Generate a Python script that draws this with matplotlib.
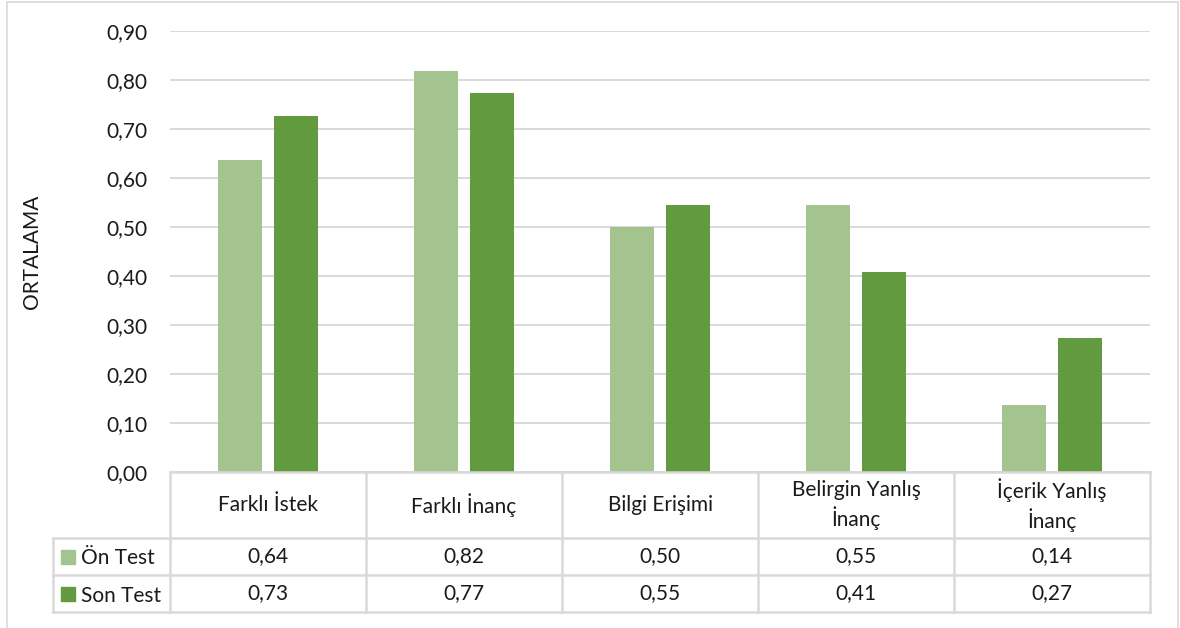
import matplotlib.pyplot as plt
import numpy as np
from matplotlib.patches import Rectangle

categories = ["Farklı İstek", "Farklı İnanç", "Bilgi Erişimi", "Belirgin Yanlış\nİnanç", "İçerik Yanlış\nİnanç"]
series_names = ["Ön Test", "Son Test"]
on_test = [0.636, 0.818, 0.500, 0.545, 0.136]
son_test = [0.727, 0.773, 0.545, 0.409, 0.273]
y_ticks = [0.0, 0.1, 0.2, 0.3, 0.4, 0.5, 0.6, 0.7, 0.8, 0.9]

colors = ["#a3c48f", "#629b3f"]
grid_color = "#d9d9d9"
text_color = "#1a1a1a"
fs = 15
W, H = 1180, 628

plt.rcParams["font.family"] = ["Lato", "DejaVu Sans"]

fig = plt.figure(figsize=(W / 100, H / 100), dpi=100)
fig.patch.set_facecolor("white")


def fx(x):
    return x / W


def fy(y):
    return 1 - y / H


# plot area in pixel terms
left, right, top, bottom = 170, 1150, 31, 472
ax = fig.add_axes([fx(left), fy(bottom), fx(right) - fx(left), fy(top) - fy(bottom)])
n = len(categories)
x = np.arange(n) + 0.5
bw, off = 0.22, 0.143
ax.bar(x - off, on_test, width=bw, color=colors[0], zorder=2)
ax.bar(x + off, son_test, width=bw, color=colors[1], zorder=2)
ax.set_xlim(0, n)
ax.set_ylim(0, 0.9)
ax.set_yticks(y_ticks)
ax.set_yticklabels([f"{v:.2f}".replace(".", ",") for v in y_ticks], fontsize=fs, color=text_color)
ax.tick_params(axis="y", length=0, pad=16.5)
ax.set_xticks([])
for s in ax.spines.values():
    s.set_visible(False)
ax.grid(axis="y", color=grid_color, linewidth=1.4, zorder=0)
ax.set_ylabel("ORTALAMA", fontsize=fs, color=text_color)
ax.yaxis.set_label_coords(-(left - 42) / (right - left), 0.5)

# data table under the axis
row_h = [472, 538, 575, 612]
col_w = (right - left) / n
lkw = dict(color=grid_color, linewidth=1.8, transform=fig.transFigure)
fig.add_artist(plt.Line2D([fx(left), fx(right)], [fy(472), fy(472)], **lkw))
for y in row_h[1:]:
    fig.add_artist(plt.Line2D([fx(53), fx(right)], [fy(y), fy(y)], **lkw))
for i in range(n + 1):
    xc = left + i * col_w
    fig.add_artist(plt.Line2D([fx(xc), fx(xc)], [fy(472), fy(612)], **lkw))
fig.add_artist(plt.Line2D([fx(53), fx(53)], [fy(538), fy(612)], **lkw))

for i, cat in enumerate(categories):
    xc = left + (i + 0.5) * col_w
    fig.text(fx(xc), fy(505), cat, ha="center", va="center", fontsize=fs,
             color=text_color, linespacing=1.3)
    for r, vals in enumerate([on_test, son_test]):
        yc = (row_h[r + 1] + row_h[r + 2]) / 2
        fig.text(fx(xc), fy(yc), f"{vals[i]:.2f}".replace(".", ","), ha="center", va="center",
                 fontsize=fs, color=text_color)

for r, name in enumerate(series_names):
    yc = (row_h[r + 1] + row_h[r + 2]) / 2
    fig.add_artist(Rectangle((fx(61), fy(yc + 7)), fx(14), 14 / H, color=colors[r],
                             transform=fig.transFigure))
    fig.text(fx(81), fy(yc), name, ha="left", va="center_baseline", fontsize=fs, color=text_color)

# outer chart border
fig.add_artist(Rectangle((fx(7), fy(640)), fx(1178 - 7), (640 - 2) / H, fill=False,
                         edgecolor=grid_color, linewidth=1.2, transform=fig.transFigure))

fig.savefig("out.png", dpi=100)
